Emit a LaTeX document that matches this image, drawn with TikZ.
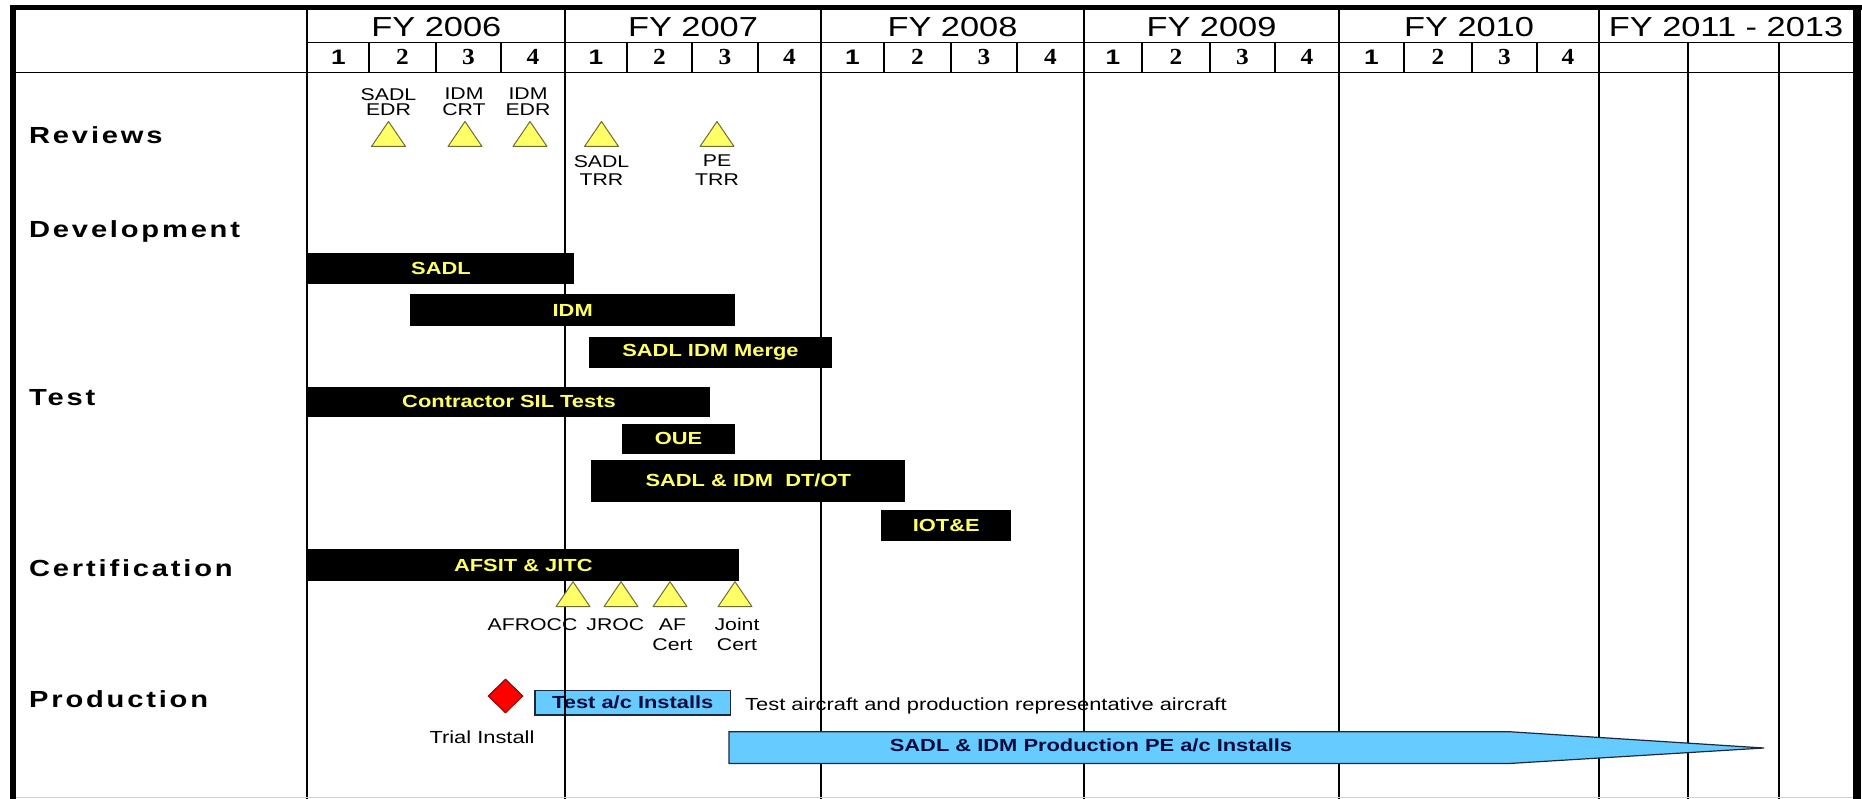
\documentclass[tikz,border=0pt]{standalone}
\usepackage{fontspec}
\setmainfont{Liberation Sans}[FakeStretch=1.25]
\newfontfamily\rowfont{Liberation Sans}[FakeStretch=1.25,LetterSpace=12]
\newfontfamily\qserif{Liberation Serif}[FakeStretch=1.1]
\usetikzlibrary{shapes.geometric}
\definecolor{baryellow}{RGB}{255,255,102}
\definecolor{triyellow}{RGB}{255,255,102}
\definecolor{triedge}{RGB}{110,110,50}
\definecolor{skyblue}{RGB}{102,204,255}
\definecolor{boxedge}{RGB}{30,40,60}
\definecolor{navytext}{RGB}{10,10,60}
\definecolor{diamondedge}{RGB}{140,0,0}
\begin{document}
\begin{tikzpicture}[x=1pt,y=-1pt,
  grid/.style={line width=1.6pt, black},
  bar/.style={fill=black, text=baryellow, font=\bfseries\fontsize{17.5}{18}\selectfont, inner sep=0pt, anchor=north west},
  fyl/.style={font=\fontsize{27.5}{28}\selectfont, anchor=base, inner sep=0pt},
  qnum/.style={font=\bfseries\fontsize{21}{21}\selectfont, anchor=base, inner sep=0pt},
  qnumserif/.style={font=\qserif\bfseries\fontsize{23}{23}\selectfont, anchor=base, inner sep=0pt},
  rowlab/.style={font=\rowfont\bfseries\fontsize{23.3}{24}\selectfont, anchor=base west, inner sep=0pt},
  lbl/.style={font=\fontsize{17}{15.7}\selectfont, align=center, anchor=north, inner sep=0pt},
  milestone/.style={fill=triyellow, draw=triedge, line width=1pt, line join=round},
  skybox/.style={fill=skyblue, draw=boxedge, line width=1.2pt, text=navytext, font=\bfseries\fontsize{17.5}{18}\selectfont, inner sep=0pt},
  ms/.pic={\path[milestone] (-17,25) -- (0,0) -- (17,25) -- cycle;}
]
\useasboundingbox (0,0) rectangle (1862,799);
\fill[white] (0,0) rectangle (1862,799);

% box that the grid lines cross
\node[skybox, minimum width=195.7pt, minimum height=24.3pt, anchor=north west] (testac) at (534.3,690) {Test a/c Installs};

% grid
\foreach \x in {306.7,565,821,1084,1339,1599}
  \draw[grid] (\x,10) -- (\x,799);
\foreach \x in {1688,1779}
  \draw[grid] (\x,42.7) -- (\x,799);
\foreach \x in {369,436,501,627,692,758,884,951,1017,1142,1210,1275,1404,1472,1537}
  \draw[grid] (\x,42.7) -- (\x,72.7);
\draw[grid] (306.7,42.7) -- (1853,42.7);
\draw[grid] (16,72.7) -- (1853,72.7);
\draw[gray!35, line width=1pt] (16,797.5) -- (1853,797.5);

% frame
\draw[line width=5pt] (10,7.5) -- (1862,7.5);
\draw[line width=6pt] (13,5) -- (13,799);
\draw[line width=8pt] (1857,5) -- (1857,799);

% year headers
\node[fyl] (fy06) at (436.3,36.7) {FY 2006};
\node[fyl] (fy07) at (693,36.7) {FY 2007};
\node[fyl] (fy08) at (952.5,36.7) {FY 2008};
\node[fyl] (fy09) at (1211.5,36.7) {FY 2009};
\node[fyl] (fy10) at (1469,36.7) {FY 2010};
\node[fyl] (fy11) at (1726,36.7) {FY 2011 - 2013};

% quarter numbers
\foreach \x [count=\i] in {338.3,596,852.5,1113,1371.5}
  \node[qnum] (qa\i) at (\x,65) {1};
\foreach \x/\n [count=\i] in {402.5/2,468.5/3,533/4,659.5/2,725/3,789.5/4,917.5/2,984/3,1050.5/4,1176/2,1242.5/3,1307/4,1438/2,1504.5/3,1568/4}
  \node[qnumserif] (qb\i) at (\x,65) {\n};

% row labels
\node[rowlab] (reviews) at (29,143.3) {Reviews};
\node[rowlab] (development) at (29,238) {Development};
\node[rowlab] (test) at (29,405) {Test};
\node[rowlab] (certification) at (29,576.7) {Certification};
\node[rowlab] (production) at (29,707.3) {Production};

% reviews
\pic at (388.5,121.5) {ms};
\pic at (465,121.5) {ms};
\pic at (530,121.5) {ms};
\pic at (601.5,121.5) {ms};
\pic at (717,121.5) {ms};
\node[lbl] (sadledr) at (388.5,88) {SADL\\EDR};
\node[lbl] (idmcrt) at (464,88) {IDM\\CRT};
\node[lbl] (idmedr) at (528,88) {IDM\\EDR};
\node[lbl, font=\fontsize{17}{18.3}\selectfont] (sadltrr) at (601.5,155) {SADL\\TRR};
\node[lbl, font=\fontsize{17}{18.3}\selectfont] (petrr) at (717,155) {PE\\TRR};

% bars
\node[bar, minimum width=266.4pt, minimum height=31.3pt] (sadl) at (307.6,252.7) {SADL};
\node[bar, minimum width=325pt, minimum height=31.7pt] (idm) at (410,294) {IDM};
\node[bar, minimum width=243.5pt, minimum height=30.6pt] (merge) at (588.5,336.7) {SADL IDM Merge};
\node[bar, minimum width=402.4pt, minimum height=30pt] (sil) at (307.6,386.7) {Contractor SIL Tests};
\node[bar, minimum width=113.3pt, minimum height=30.7pt] (oue) at (621.7,423.3) {OUE};
\node[bar, minimum width=314pt, minimum height=42.4pt] (dtot) at (591,459.3) {SADL \& IDM\ \ DT/OT};
\node[bar, minimum width=130pt, minimum height=30.7pt] (iote) at (881,510) {IOT\&E};
\node[bar, minimum width=431.1pt, minimum height=32.3pt] (afsit) at (307.6,548.7) {AFSIT \& JITC};

% certification milestones
\pic at (573,581.7) {ms};
\pic at (621,581.7) {ms};
\pic at (670,581.7) {ms};
\pic at (735,581.7) {ms};
\node[lbl] (afrocc) at (532.5,618.3) {AFROCC};
\node[lbl] (jroc) at (615.4,618.3) {JROC};
\node[lbl, font=\fontsize{17}{20}\selectfont] (afcert) at (672.5,618.3) {AF\\Cert};
\node[lbl, font=\fontsize{17}{20}\selectfont] (jointcert) at (737,618.3) {Joint\\Cert};

% production
\node[diamond, aspect=1, minimum width=35pt, minimum height=34pt, inner sep=0pt, fill=red, draw=diamondedge, line width=1pt] (trial) at (505.5,696) {};
\node[font=\fontsize{17.5}{18}\selectfont, anchor=base, inner sep=0pt] (trialtxt) at (482,743.3) {Trial Install};
\node[font=\fontsize{17.5}{18}\selectfont, anchor=base west, inner sep=0pt] (note) at (745,710) {Test aircraft and production representative aircraft};
\path[fill=skyblue, draw=boxedge, line width=1.2pt, line join=miter] (729,731.7) -- (1509,731.7) -- (1764,748) -- (1509,763.5) -- (729,763.5) -- cycle;
\node[font=\bfseries\fontsize{17.5}{18}\selectfont, text=navytext, anchor=base, inner sep=0pt] (prodtxt) at (1091,751.7) {SADL \& IDM Production PE a/c Installs};
\end{tikzpicture}
\end{document}
